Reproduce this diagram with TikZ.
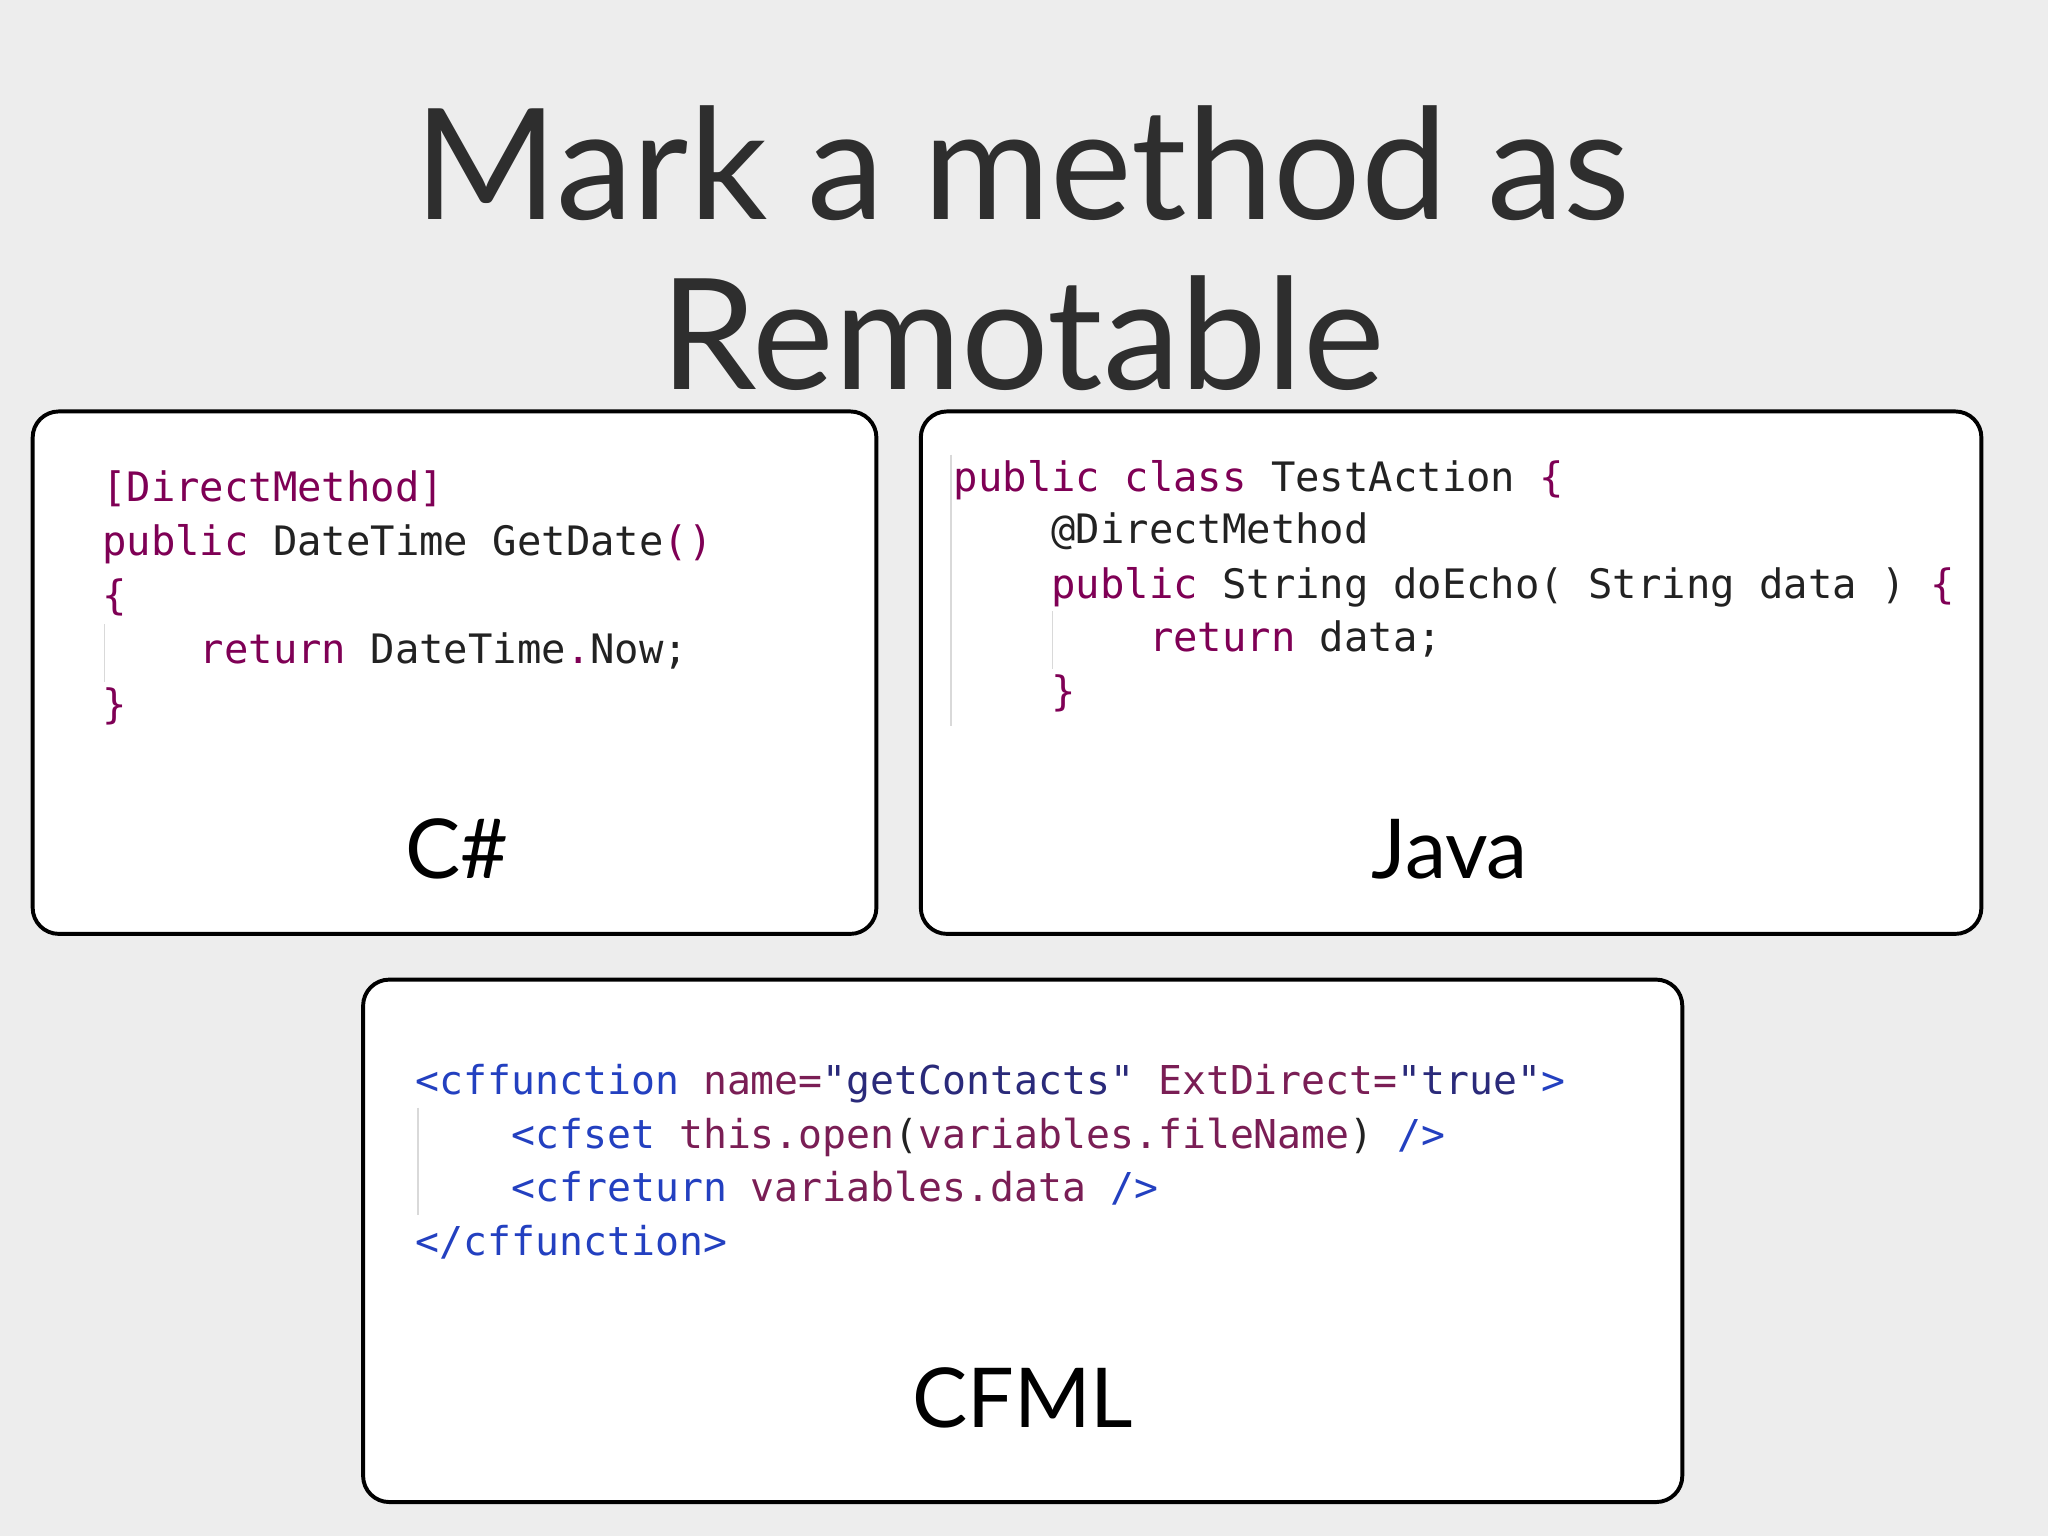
\documentclass[tikz,border=0pt]{standalone}
\usepackage{fontspec}
\setmainfont{Lato}
\newfontfamily\codefont{DejaVu Sans Mono}[Scale=1]
\definecolor{kw}{HTML}{7F0055}
\definecolor{tagc}{HTML}{2340C0}
\definecolor{attc}{HTML}{7A1E55}
\definecolor{valc}{HTML}{2A2A7A}
\definecolor{txt}{HTML}{222222}
\tikzset{
 x=0.3mm,y=-0.3mm,
 panel/.style={draw=black,line width=0.9mm,fill=white,rounded corners=6mm},
 code/.style={anchor=mid west,inner sep=0pt,font=\codefont\fontsize{26.5}{30}\selectfont,text=txt},
 lang/.style={font=\fontsize{54}{64}\selectfont,text=black},
 guide/.style={draw=black!15,line width=0.3mm}
}
\begin{document}
\begin{tikzpicture}
\fill[black!7] (0,0) rectangle (1568,1176);
\useasboundingbox (0,0) rectangle (1568,1176);
\node[font=\fontsize{101}{110}\selectfont,text=black!82] (t1) at (783,125) {Mark a method as};
\node[font=\fontsize{101}{110}\selectfont,text=black!82] (t2) at (783,255) {Remotable};
\draw[panel] (25,315) rectangle (671,715);
\draw[panel] (705,315) rectangle (1517,715);
\draw[panel] (278,750) rectangle (1288,1150);
% C#
\draw[guide] (80,478) -- (80,522);
\node[code] (c1) at (78,381) {\textcolor{kw}{[DirectMethod]}};
\node[code] (c2) at (78,422) {\textcolor{kw}{public} DateTime GetDate\textcolor{kw}{()}};
\node[code] (c3) at (78,464) {\textcolor{kw}{\{}};
\node[code] (c4) at (78,505) {\phantom{xxxx}\textcolor{kw}{return} DateTime\textcolor{kw}{.}Now;};
\node[code] (c5) at (78,547) {\textcolor{kw}{\}}};
\node[lang] (cs) at (350,650) {C\#};
% Java
\draw[guide] (728,348) -- (728,556);
\draw[guide] (806,468) -- (806,512);
\node[code] (j1) at (730,373) {\textcolor{kw}{public class} TestAction \textcolor{kw}{\{}};
\node[code] (j2) at (730,413) {\phantom{xxxx}@DirectMethod};
\node[code] (j3) at (730,455) {\phantom{xxxx}\textcolor{kw}{public} String doEcho( String data ) \textcolor{kw}{\{}};
\node[code] (j4) at (730,496) {\phantom{xxxxxxxx}\textcolor{kw}{return} data;};
\node[code] (j5) at (730,537) {\phantom{xxxx}\textcolor{kw}{\}}};
\node[lang] (jv) at (1110,650) {Java};
% CFML
\draw[guide] (320,848) -- (320,930);
\node[code,font=\codefont\fontsize{26}{30}\selectfont] (f1) at (318,835) {\textcolor{tagc}{<cffunction} \textcolor{attc}{name=}\textcolor{valc}{"getContacts"} \textcolor{attc}{ExtDirect=}\textcolor{valc}{"true"}\textcolor{tagc}{>}};
\node[code,font=\codefont\fontsize{26}{30}\selectfont] (f2) at (318,876) {\phantom{xxxx}\textcolor{tagc}{<cfset} \textcolor{attc}{this.open}(\textcolor{attc}{variables.fileName}) \textcolor{tagc}{/>}};
\node[code,font=\codefont\fontsize{26}{30}\selectfont] (f3) at (318,917) {\phantom{xxxx}\textcolor{tagc}{<cfreturn} \textcolor{attc}{variables.data} \textcolor{tagc}{/>}};
\node[code,font=\codefont\fontsize{26}{30}\selectfont] (f4) at (318,958) {\textcolor{tagc}{</cffunction>}};
\node[lang] (cf) at (783,1070) {CFML};
\end{tikzpicture}
\end{document}
